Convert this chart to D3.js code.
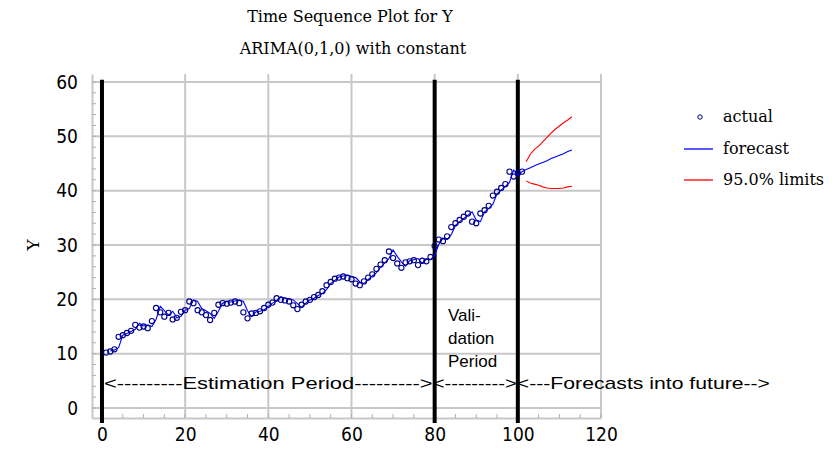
<!DOCTYPE html>
<html>
<head>
<meta charset="utf-8">
<script src="https://cdn.jsdelivr.net/npm/d3@7/dist/d3.min.js"></script>
<style>
html,body{margin:0;padding:0;background:#fff;}
svg{display:block;}
</style>
</head>
<body>
<svg id="chart" width="832" height="449"></svg>
<script>
// ---- data ----
const titleLines = ["Time Sequence Plot for Y", "ARIMA(0,1,0) with constant"];
const yLabel = "Y";
const xTicks = [0, 20, 40, 60, 80, 100, 120];
const yTicks = [0, 10, 20, 30, 40, 50, 60];
const periodBounds = [0, 80, 100];

// actual observations, t = 1..101
const actual = [10.2,10.4,10.8,13.1,13.4,13.8,14.2,15.3,14.8,15.0,
  14.7,16.0,18.4,17.6,16.8,17.5,16.3,16.6,17.7,18.0,
  19.6,19.3,18.0,17.6,17.1,16.2,17.5,19.0,19.3,19.2,
  19.4,19.6,19.3,17.6,16.5,17.4,17.5,17.8,18.4,19.0,
  19.4,20.2,19.9,19.8,19.6,18.9,18.2,19.0,19.6,19.9,
  20.4,20.8,21.5,22.6,23.2,23.8,24.0,24.2,23.9,23.7,
  22.9,22.6,23.3,24.0,24.6,25.6,26.4,27.2,28.8,27.6,
  26.6,25.8,26.8,27.0,27.2,26.3,27.1,27.0,27.8,29.8,
  31.0,30.7,31.6,33.3,34.0,34.6,35.2,35.8,34.3,34.0,
  35.8,36.4,37.2,39.1,39.8,40.5,41.2,43.5,42.6,43.2,43.5];

// one-step forecasts t = 2..101, then forecasts into future t = 102..113
const forecast = [10.5,10.7,11.1,13.4,13.7,14.1,14.5,15.6,15.1,15.3,
  15.0,16.3,18.7,17.9,17.1,17.8,16.6,16.9,18.0,18.3,
  19.9,19.6,18.3,17.9,17.4,16.5,17.8,19.3,19.6,19.5,
  19.7,19.9,19.6,17.9,16.8,17.7,17.8,18.1,18.7,19.3,
  19.7,20.5,20.2,20.1,19.9,19.2,18.5,19.3,19.9,20.2,
  20.7,21.1,21.8,22.9,23.5,24.1,24.3,24.5,24.2,24.0,
  23.2,22.9,23.6,24.3,24.9,25.9,26.7,27.5,29.1,27.9,
  26.9,26.1,27.1,27.3,27.5,26.6,27.4,27.3,28.1,30.1,
  31.3,31.0,31.9,33.6,34.3,34.9,35.5,36.1,34.6,34.3,
  36.1,36.7,37.5,39.4,40.1,40.8,41.5,43.8,42.9,43.5,
  43.9,44.2,44.6,44.9,45.2,45.5,45.9,46.2,46.5,46.8,47.2,47.5];

// 95% limits, t = 102..113
const upper = [45.3,46.7,47.6,48.2,49.0,49.8,50.6,51.3,51.9,52.5,53.0,53.6];
const lower = [41.8,41.4,41.2,41.0,40.7,40.5,40.4,40.4,40.4,40.5,40.7,40.8];

const legendLabels = ["actual", "forecast", "95.0% limits"];
const periodTexts = ["<---------Estimation Period--------->", "<--------->", "<---Forecasts into future-->"];
const validationLines = ["Vali-", "dation", "Period"];

// ---- chart ----
const svg = d3.select("#chart");
const x = d3.scaleLinear().domain([-2.4, 120]).range([92, 601]);
const y = d3.scaleLinear().domain([-1.84, 61.47]).range([418, 74]);

const actualPts = actual.map((v, i) => ({t: i + 1, v}));
const fcPts = forecast.map((v, i) => ({t: i + 2, v}));
const upPts = upper.map((v, i) => ({t: i + 102, v}));
const loPts = lower.map((v, i) => ({t: i + 102, v}));

const grid = svg.append("g");
const gridColor = "#c8c8c8";
grid.selectAll("line.vx").data(xTicks.filter(d => d > 0)).enter().append("line")
  .attr("x1", d => x(d)).attr("x2", d => x(d))
  .attr("y1", y(61.47)).attr("y2", y(-1.84))
  .attr("stroke", gridColor).attr("stroke-width", 2);
grid.selectAll("line.hy").data(yTicks).enter().append("line")
  .attr("x1", x(-2.4)).attr("x2", x(120))
  .attr("y1", d => y(d)).attr("y2", d => y(d))
  .attr("stroke", gridColor).attr("stroke-width", 2);

// axes
const fontTick = "'Liberation Sans Narrow','DejaVu Sans Condensed','Liberation Sans',Arial,sans-serif";
const yAxis = d3.axisLeft(y).tickValues(yTicks).tickSize(0).tickPadding(14);
const gy = svg.append("g").attr("transform", `translate(${x(-2.4)},0)`).call(yAxis);
gy.select(".domain").attr("stroke", gridColor).attr("stroke-width", 2);
gy.selectAll("text").attr("font-family", fontTick).attr("font-size", 19).attr("fill", "#000");

const xAxis = d3.axisBottom(x).tickValues(xTicks).tickSize(0).tickPadding(10);
const gx = svg.append("g").attr("transform", `translate(0,${y(-1.84)})`).call(xAxis);
gx.select(".domain").attr("stroke", gridColor).attr("stroke-width", 2);
gx.selectAll("text").attr("font-family", fontTick).attr("font-size", 19).attr("fill", "#000");

// minor ticks (inside)
const yMinor = d3.range(0, 61, 2);
svg.append("g").selectAll("line").data(yMinor).enter().append("line")
  .attr("x1", x(-2.4)).attr("x2", x(-2.4) + 4)
  .attr("y1", d => y(d)).attr("y2", d => y(d))
  .attr("stroke", "#b0b0b0").attr("stroke-width", 1);
const xMinor = d3.range(0, 121, 5);
svg.append("g").selectAll("line").data(xMinor).enter().append("line")
  .attr("x1", d => x(d)).attr("x2", d => x(d))
  .attr("y1", y(-1.84)).attr("y2", y(-1.84) - 4)
  .attr("stroke", "#b0b0b0").attr("stroke-width", 1);

// period boundaries
svg.append("g").selectAll("line").data(periodBounds).enter().append("line")
  .attr("x1", d => x(d)).attr("x2", d => x(d))
  .attr("y1", y(60.4)).attr("y2", y(-1.84) + 5)
  .attr("stroke", "#000").attr("stroke-width", 4);

// lines
const line = d3.line().x(d => x(d.t)).y(d => y(d.v));
svg.append("path").datum(fcPts).attr("d", line)
  .attr("fill", "none").attr("stroke", "#0000ff").attr("stroke-width", 1.1);
svg.append("path").datum(upPts).attr("d", line)
  .attr("fill", "none").attr("stroke", "#ff0000").attr("stroke-width", 1.1);
svg.append("path").datum(loPts).attr("d", line)
  .attr("fill", "none").attr("stroke", "#ff0000").attr("stroke-width", 1.1);

// points
svg.append("g").selectAll("circle").data(actualPts).enter().append("circle")
  .attr("cx", d => x(d.t)).attr("cy", d => y(d.v)).attr("r", 2.6)
  .attr("fill", "none").attr("stroke", "#00008b").attr("stroke-width", 1.1);

// period annotations
const fontAnn = "'Liberation Sans',Arial,sans-serif";
const annY = 389;
const annSpans = [[x(0) + 2, x(80) - 2], [x(80) - 2, x(100) - 1], [x(100) - 1, 770]];
svg.append("g").selectAll("text").data(periodTexts).enter().append("text")
  .attr("x", (d, i) => annSpans[i][0]).attr("y", annY)
  .attr("textLength", (d, i) => annSpans[i][1] - annSpans[i][0])
  .attr("lengthAdjust", "spacingAndGlyphs")
  .attr("font-family", fontAnn).attr("font-size", 17).attr("fill", "#000")
  .text(d => d);
svg.append("g").selectAll("text").data(validationLines).enter().append("text")
  .attr("x", 448).attr("y", (d, i) => 321 + i * 23)
  .attr("font-family", fontAnn).attr("font-size", 17).attr("fill", "#000")
  .text(d => d);

// titles
const fontSerif = "'DejaVu Serif','Liberation Serif',serif";
svg.append("text").attr("x", 350).attr("y", 22).attr("text-anchor", "middle")
  .attr("font-family", fontSerif).attr("font-size", 16).text(titleLines[0]);
svg.append("text").attr("x", 353).attr("y", 54).attr("text-anchor", "middle")
  .attr("font-family", fontSerif).attr("font-size", 16).text(titleLines[1]);

// y label
svg.append("text").attr("transform", "translate(39,245) rotate(-90)")
  .attr("text-anchor", "middle").attr("font-family", fontSerif).attr("font-size", 17).text(yLabel);

// legend
const lg = svg.append("g");
const legY = [117, 149, 180];
lg.append("circle").attr("cx", 700).attr("cy", legY[0]).attr("r", 2.2)
  .attr("fill", "none").attr("stroke", "#00008b").attr("stroke-width", 1);
lg.append("line").attr("x1", 684).attr("x2", 713).attr("y1", legY[1]).attr("y2", legY[1])
  .attr("stroke", "#0000ff").attr("stroke-width", 1.3);
lg.append("line").attr("x1", 684).attr("x2", 713).attr("y1", legY[2]).attr("y2", legY[2])
  .attr("stroke", "#ff0000").attr("stroke-width", 1.3);
lg.selectAll("text").data(legendLabels).enter().append("text")
  .attr("x", 723).attr("y", (d, i) => legY[i] + 5)
  .attr("font-family", fontSerif).attr("font-size", 16).text(d => d);
</script>
</body>
</html>
